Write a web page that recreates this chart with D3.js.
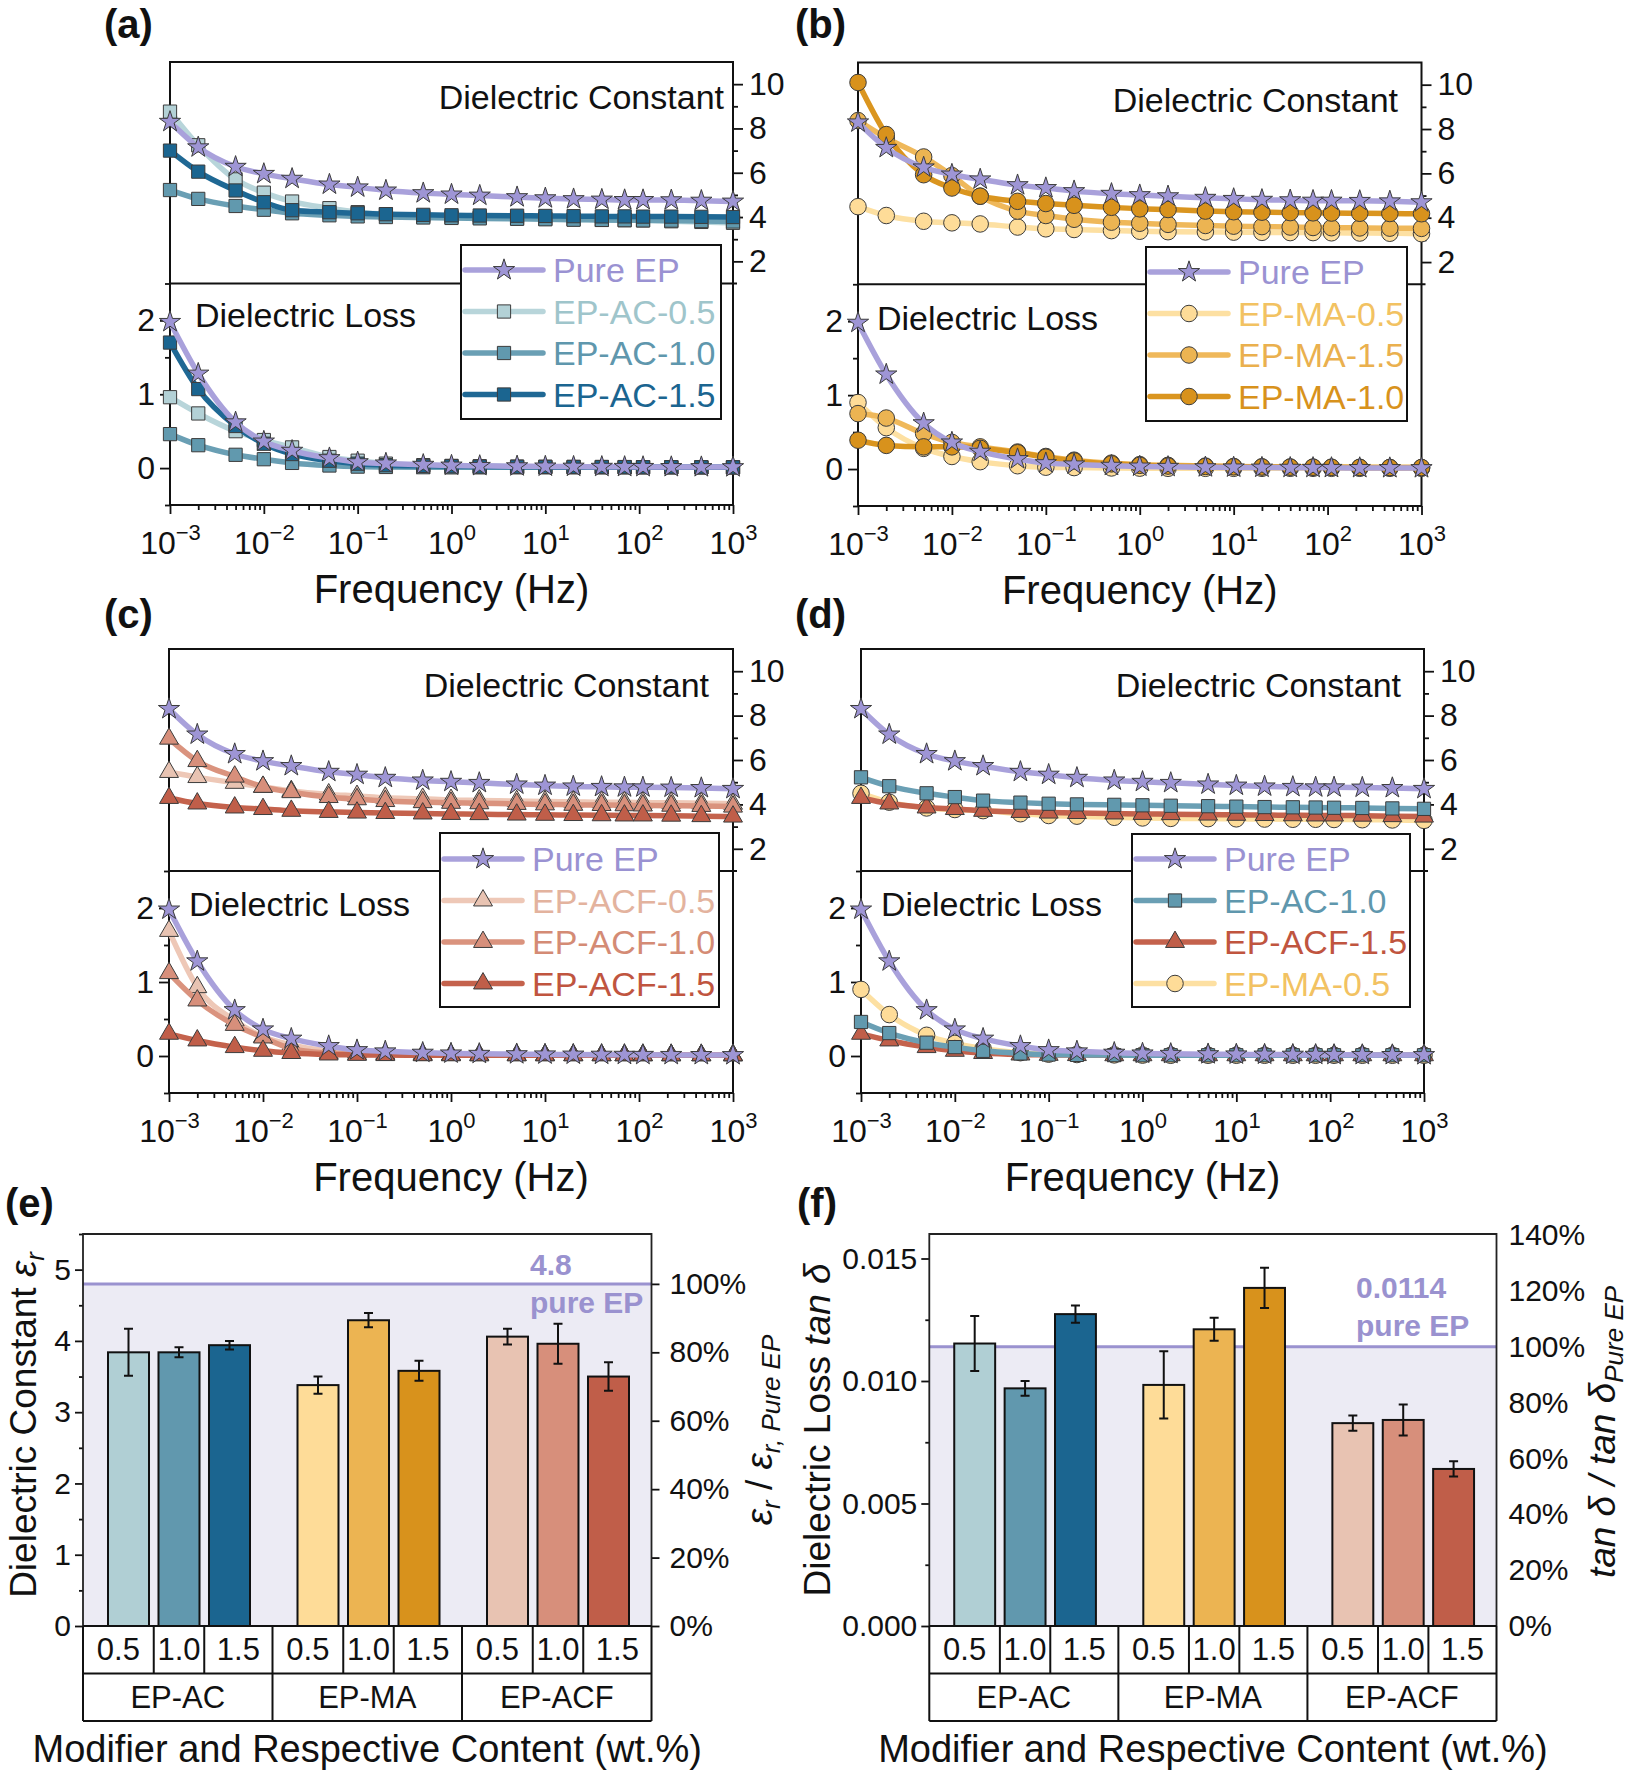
<!DOCTYPE html>
<html><head><meta charset="utf-8">
<script src="https://cdn.jsdelivr.net/npm/d3@7"></script>
<style>
body{margin:0;background:#fff}
svg{display:block}
text{font-family:"Liberation Sans",Arial,Helvetica,sans-serif}
</style>
</head><body>
<svg id="c" width="1628" height="1775"></svg>
<script>
// ---------------- DATA ----------------
const freq = [0.001,0.002,0.005,0.01,0.02,0.05,0.1,0.2,0.5,1,2,5,10,20,40,70,110,220,460,1000];

const pureEP_eps  = [8.3,7.15,6.27,5.95,5.73,5.47,5.34,5.2,5.08,5.02,4.97,4.9,4.85,4.81,4.79,4.77,4.77,4.76,4.74,4.7];
const pureEP_loss = [1.98,1.28,0.62,0.36,0.235,0.135,0.08,0.063,0.045,0.035,0.03,0.025,0.022,0.02,0.018,0.017,0.016,0.015,0.014,0.013];

const AC05_eps  = [8.76,7.24,5.7,5.1,4.7,4.4,4.22,4.13,4.04,4.0,3.98,3.95,3.92,3.9,3.87,3.86,3.85,3.81,3.78,3.74];
const AC05_loss = [0.96,0.74,0.5,0.38,0.28,0.15,0.1,0.06,0.04,0.03,0.025,0.02,0.018,0.016,0.015,0.014,0.013,0.012,0.011,0.01];
const AC10_eps  = [5.22,4.82,4.5,4.33,4.17,4.08,4.03,4.0,3.98,3.96,3.94,3.92,3.9,3.88,3.87,3.86,3.85,3.84,3.82,3.8];
const AC10_loss = [0.46,0.31,0.18,0.12,0.07,0.035,0.02,0.015,0.012,0.01,0.01,0.01,0.01,0.01,0.01,0.01,0.01,0.01,0.01,0.01];
const AC15_eps  = [7.0,6.05,5.2,4.67,4.31,4.22,4.17,4.13,4.1,4.08,4.07,4.06,4.05,4.04,4.03,4.03,4.02,4.02,4.01,4.0];
const AC15_loss = [1.7,1.07,0.57,0.33,0.19,0.1,0.06,0.04,0.03,0.025,0.02,0.018,0.016,0.015,0.014,0.013,0.012,0.012,0.011,0.01];

const MA05_eps  = [4.5,4.1,3.84,3.77,3.72,3.58,3.5,3.47,3.42,3.39,3.37,3.36,3.35,3.34,3.33,3.33,3.32,3.31,3.3,3.28];
const MA05_loss = [0.9,0.56,0.28,0.17,0.1,0.045,0.025,0.02,0.015,0.012,0.01,0.01,0.01,0.01,0.01,0.01,0.01,0.01,0.01,0.01];
const MA15_eps  = [8.38,7.6,6.74,5.9,4.97,4.3,4.1,3.93,3.8,3.75,3.7,3.65,3.62,3.6,3.58,3.56,3.55,3.54,3.53,3.52];
const MA15_loss = [0.75,0.69,0.48,0.36,0.3,0.23,0.17,0.12,0.08,0.06,0.05,0.04,0.035,0.03,0.028,0.026,0.025,0.024,0.022,0.02];
const MA10_eps  = [10.1,7.75,5.94,5.34,4.97,4.74,4.64,4.56,4.47,4.4,4.37,4.3,4.27,4.25,4.23,4.22,4.21,4.2,4.19,4.18];
const MA10_loss = [0.39,0.32,0.3,0.3,0.28,0.22,0.16,0.11,0.07,0.05,0.04,0.035,0.03,0.028,0.026,0.025,0.024,0.022,0.02,0.02];

const ACF05_eps  = [5.46,5.23,4.97,4.79,4.6,4.45,4.38,4.3,4.25,4.2,4.18,4.15,4.13,4.12,4.1,4.1,4.08,4.07,4.05,4.03];
const ACF05_loss = [1.69,0.93,0.48,0.26,0.15,0.07,0.05,0.03,0.025,0.02,0.018,0.016,0.015,0.014,0.013,0.012,0.012,0.011,0.011,0.01];
const ACF10_eps  = [6.96,5.95,5.25,4.79,4.55,4.33,4.23,4.15,4.1,4.07,4.05,4.02,4.0,3.98,3.97,3.96,3.95,3.94,3.93,3.9];
const ACF10_loss = [1.12,0.75,0.42,0.25,0.1,0.04,0.025,0.02,0.015,0.012,0.01,0.01,0.01,0.01,0.01,0.01,0.01,0.01,0.01,0.01];
const ACF15_eps  = [4.29,4.04,3.86,3.79,3.71,3.66,3.63,3.61,3.59,3.57,3.56,3.54,3.53,3.52,3.51,3.5,3.5,3.49,3.47,3.45];
const ACF15_loss = [0.3,0.21,0.12,0.07,0.04,0.02,0.015,0.012,0.01,0.01,0.01,0.01,0.01,0.01,0.01,0.01,0.01,0.01,0.01,0.01];

const xDecades = [1e-3,1e-2,1e-1,1e0,1e1,1e2,1e3];
const epsTicks = [2,4,6,8,10];
const lossTicks = [0,1,2];

// bar charts
const groups = ['EP-AC','EP-MA','EP-ACF'];
const contents = ['0.5','1.0','1.5'];
const epsBar = [3.84,3.84,3.94, 3.38,4.29,3.58, 4.06,3.96,3.5];
const epsErr = [0.33,0.07,0.06, 0.12,0.10,0.14, 0.11,0.28,0.20];
const tanBar = [0.01153,0.0097,0.01273, 0.00984,0.01211,0.0138, 0.00828,0.00841,0.00641];
const tanErr = [0.00112,0.0003,0.00035, 0.00137,0.00047,0.00082, 0.00031,0.00063,0.00031];
const pureEPeps = 4.8;
const pureEPtan = 0.0114;
const epsBarTicks = [0,1,2,3,4,5];
const epsPctTicks = [0,20,40,60,80,100];
const tanBarTicks = [0,0.005,0.010,0.015];
const tanPctTicks = [0,20,40,60,80,100,120,140];

// ---------------- STYLE ----------------
const series = {
  'Pure EP':    {eps:pureEP_eps, loss:pureEP_loss, sym:d3.symbolStar,     size:140, line:'#a9a1db', fill:'#9e95d5', text:'#9a92d2'},
  'EP-AC-0.5':  {eps:AC05_eps,  loss:AC05_loss,  sym:d3.symbolSquare,   size:175, line:'#b8d5da', fill:'#b3d1d6', text:'#9fc5cb'},
  'EP-AC-1.0':  {eps:AC10_eps,  loss:AC10_loss,  sym:d3.symbolSquare,   size:175, line:'#6a9fb4', fill:'#6199ae', text:'#5f97ad'},
  'EP-AC-1.5':  {eps:AC15_eps,  loss:AC15_loss,  sym:d3.symbolSquare,   size:175, line:'#1f6894', fill:'#1b6590', text:'#1b6590'},
  'EP-MA-0.5':  {eps:MA05_eps,  loss:MA05_loss,  sym:d3.symbolCircle,   size:215, line:'#fde0a2', fill:'#fedc98', text:'#f2c262'},
  'EP-MA-1.5':  {eps:MA15_eps,  loss:MA15_loss,  sym:d3.symbolCircle,   size:215, line:'#efb85a', fill:'#ecb452', text:'#eab04e'},
  'EP-MA-1.0':  {eps:MA10_eps,  loss:MA10_loss,  sym:d3.symbolCircle,   size:215, line:'#da951f', fill:'#d8921c', text:'#d8921c'},
  'EP-ACF-0.5': {eps:ACF05_eps, loss:ACF05_loss, sym:d3.symbolTriangle, size:155, line:'#eec8b7', fill:'#e8c3b2', text:'#e3b39e'},
  'EP-ACF-1.0': {eps:ACF10_eps, loss:ACF10_loss, sym:d3.symbolTriangle, size:155, line:'#da937e', fill:'#d78f7b', text:'#d48b75'},
  'EP-ACF-1.5': {eps:ACF15_eps, loss:ACF15_loss, sym:d3.symbolTriangle, size:155, line:'#c4624c', fill:'#c05e49', text:'#c0553f'}
};
const barColors = ['#b0cfd4','#6198ae','#1b6590','#fedc98','#ecb452','#d8921c','#e8c3b2','#d78f7b','#c05e49'];
const lav = '#9a92cf';

const linePanels = [
  {label:'(a)', lx:104, ly:38, x0:170, x1:733, top:62, bot:505,
   names:['EP-AC-0.5','EP-AC-1.0','EP-AC-1.5','Pure EP'], legend:['Pure EP','EP-AC-0.5','EP-AC-1.0','EP-AC-1.5'],
   dc:[724,109], dl:[195,327], leg:{x:461,y:245,w:260,h:174,r0:270}},
  {label:'(b)', lx:795, ly:38, x0:858, x1:1421.5, top:62.5, bot:506,
   names:['EP-MA-0.5','EP-MA-1.5','EP-MA-1.0','Pure EP'], legend:['Pure EP','EP-MA-0.5','EP-MA-1.5','EP-MA-1.0'],
   dc:[1398,112], dl:[877,330], leg:{x:1146,y:247,w:261,h:174,r0:272}},
  {label:'(c)', lx:104, ly:628, x0:169, x1:733, top:649, bot:1093,
   names:['EP-ACF-0.5','EP-ACF-1.0','EP-ACF-1.5','Pure EP'], legend:['Pure EP','EP-ACF-0.5','EP-ACF-1.0','EP-ACF-1.5'],
   dc:[709,697], dl:[189,916], leg:{x:440,y:833,w:279,h:174,r0:859}},
  {label:'(d)', lx:795, ly:628, x0:861, x1:1424, top:649, bot:1093,
   names:['EP-MA-0.5','EP-ACF-1.5','EP-AC-1.0','Pure EP'], legend:['Pure EP','EP-AC-1.0','EP-ACF-1.5','EP-MA-0.5'],
   dc:[1401,697], dl:[881,916], leg:{x:1132,y:834,w:278,h:173,r0:859}}
];

const svg = d3.select('#c');

function styleAxis(g, size){
  g.attr('font-family', null).attr('font-size', size);
  g.selectAll('.tick line').attr('stroke','#111').attr('stroke-width',1.8);
  g.selectAll('.tick text').attr('fill','#111');
  g.select('.domain').remove();
}

function drawLinePanel(p){
  const g = svg.append('g');
  const mid = (p.top + p.bot) / 2;
  const x = d3.scaleLog().domain([1e-3,1e3]).range([p.x0,p.x1]);
  const yT = d3.scaleLinear().domain([1,11]).range([mid,p.top]);
  const yB = d3.scaleLinear().domain([-0.5,2.5]).range([p.bot,mid]);

  const minor = [];
  for (let d=-3; d<3; d++) for (let k=2;k<10;k++) minor.push(k*Math.pow(10,d));
  g.append('g').attr('transform',`translate(0,${p.bot})`)
    .call(d3.axisBottom(x).tickValues(minor).tickSize(5).tickFormat(''))
    .call(a=>styleAxis(a,32));
  const gx = g.append('g').attr('transform',`translate(0,${p.bot})`)
    .call(d3.axisBottom(x).tickValues(xDecades).tickSize(9).tickFormat(''))
    .call(a=>styleAxis(a,32));
  gx.selectAll('.tick text').attr('y',49).attr('dy',null).each(function(d){
    const e = Math.round(Math.log10(d));
    const t = d3.select(this);
    t.append('tspan').text('10');
    t.append('tspan').attr('dy',-14).attr('font-size',22).text(e<0 ? '\u2212'+(-e) : String(e));
  });

  g.append('g').attr('transform',`translate(${p.x1},0)`)
    .call(d3.axisRight(yT).tickValues([3,5,7,9]).tickSize(5).tickFormat(''))
    .call(a=>styleAxis(a,32));
  g.append('g').attr('transform',`translate(${p.x1},0)`)
    .call(d3.axisRight(yT).tickValues(epsTicks).tickSize(10).tickPadding(6))
    .call(a=>styleAxis(a,32));
  g.append('g').attr('transform',`translate(${p.x0},0)`)
    .call(d3.axisLeft(yB).tickValues([-0.5,0.5,1.5,2.5]).tickSize(5).tickFormat(''))
    .call(a=>styleAxis(a,32));
  g.append('g').attr('transform',`translate(${p.x0},0)`)
    .call(d3.axisLeft(yB).tickValues(lossTicks).tickSize(10).tickPadding(5).tickFormat(d3.format('d')))
    .call(a=>styleAxis(a,32));

  g.append('rect').attr('x',p.x0).attr('y',p.top).attr('width',p.x1-p.x0).attr('height',p.bot-p.top)
    .attr('fill','none').attr('stroke','#111').attr('stroke-width',2);
  g.append('line').attr('x1',p.x0).attr('x2',p.x1+4).attr('y1',mid).attr('y2',mid)
    .attr('stroke','#111').attr('stroke-width',2);

  const lineT = d3.line().x((d,i)=>x(freq[i])).y(d=>yT(d)).curve(d3.curveMonotoneX);
  const lineB = d3.line().x((d,i)=>x(freq[i])).y(d=>yB(d)).curve(d3.curveMonotoneX);
  p.names.forEach(n=>{
    const s = series[n];
    [[s.eps,lineT,yT],[s.loss,lineB,yB]].forEach(([vals,ln,y])=>{
      g.append('path').attr('d',ln(vals)).attr('fill','none').attr('stroke',s.line)
        .attr('stroke-width',5.5).attr('stroke-linejoin','round');
      g.selectAll(null).data(vals).enter().append('path')
        .attr('d',d3.symbol().type(s.sym).size(s.size))
        .attr('transform',(d,i)=>`translate(${x(freq[i])},${y(d)})`)
        .attr('fill',s.fill).attr('stroke','#3c3c3c').attr('stroke-width',1);
    });
  });

  g.append('text').attr('x',p.dc[0]).attr('y',p.dc[1]).attr('text-anchor','end')
    .attr('font-size',34).attr('fill','#111').text('Dielectric Constant');
  g.append('text').attr('x',p.dl[0]).attr('y',p.dl[1])
    .attr('font-size',34).attr('fill','#111').text('Dielectric Loss');

  const L = p.leg;
  g.append('rect').attr('x',L.x).attr('y',L.y).attr('width',L.w).attr('height',L.h)
    .attr('fill','#fff').attr('stroke','#111').attr('stroke-width',2);
  p.legend.forEach((n,i)=>{
    const s = series[n];
    const yy = L.r0 + i*41.5;
    g.append('line').attr('x1',L.x+4).attr('x2',L.x+82).attr('y1',yy).attr('y2',yy)
      .attr('stroke',s.line).attr('stroke-width',5.5).attr('stroke-linecap','round');
    g.append('path').attr('d',d3.symbol().type(s.sym).size(s.size))
      .attr('transform',`translate(${L.x+43},${yy})`)
      .attr('fill',s.fill).attr('stroke','#3c3c3c').attr('stroke-width',1);
    g.append('text').attr('x',L.x+92).attr('y',yy+12).attr('font-size',34)
      .attr('fill',s.text).text(n);
  });

  g.append('text').attr('x',(p.x0+p.x1)/2).attr('y',p.bot+98).attr('text-anchor','middle')
    .attr('font-size',40).attr('fill','#111').text('Frequency (Hz)');
  g.append('text').attr('x',p.lx).attr('y',p.ly).attr('font-size',40).attr('font-weight','bold')
    .attr('fill','#111').text(p.label);
}

linePanels.forEach(drawLinePanel);

// ---------------- BAR PANELS ----------------
const barPanels = [
  {label:'(e)', lx:5, ly:1217, x0:83, x1:651.5, top:1234, bot:1626, vals:epsBar, errs:epsErr, ref:pureEPeps,
   ymax:5.5, ticks:epsBarTicks, minor:[0.5,1.5,2.5,3.5,4.5,5.5], fmt:d3.format('d'), pctTicks:epsPctTicks,
   pctTickSize:8, pctPad:10, refText:'4.8', refX:530, refY:[1275,1313], minorSize:4},
  {label:'(f)', lx:797, ly:1217, x0:929.3, x1:1496.5, top:1234, bot:1626, vals:tanBar, errs:tanErr, ref:pureEPtan,
   ymax:0.016, ticks:tanBarTicks, minor:[0.0025,0.0075,0.0125], fmt:d3.format('.3f'), pctTicks:tanPctTicks,
   pctTickSize:0, pctPad:12, refText:'0.0114', refX:1356, refY:[1298,1336], minorSize:4}
];

function drawBarPanel(p){
  const g = svg.append('g');
  const y = d3.scaleLinear().domain([0,p.ymax]).range([p.bot,p.top]);
  const yP = d3.scaleLinear().domain([0,p.ymax/p.ref*100]).range([p.bot,p.top]);
  const gx = d3.scaleBand().domain(groups).range([p.x0,p.x1]);
  const bw = gx.bandwidth();
  const ix = d3.scaleBand().domain(contents).range([bw*25/189.5, bw*167/189.5]).paddingInner(0.188);
  const cx = (i)=> gx(groups[Math.floor(i/3)]) + ix(contents[i%3]);

  g.append('rect').attr('x',p.x0).attr('y',y(p.ref)).attr('width',p.x1-p.x0).attr('height',p.bot-y(p.ref))
    .attr('fill','#ecebf4');
  g.append('line').attr('x1',p.x0).attr('x2',p.x1).attr('y1',y(p.ref)).attr('y2',y(p.ref))
    .attr('stroke',lav).attr('stroke-width',3);

  g.selectAll(null).data(p.vals).enter().append('rect')
    .attr('x',(d,i)=>cx(i)).attr('width',ix.bandwidth())
    .attr('y',d=>y(d)).attr('height',d=>p.bot-y(d))
    .attr('fill',(d,i)=>barColors[i]).attr('stroke','#111').attr('stroke-width',2);
  p.vals.forEach((v,i)=>{
    const xc = cx(i) + ix.bandwidth()/2, e = p.errs[i];
    g.append('path').attr('d',`M${xc},${y(v+e)}V${y(v-e)}M${xc-4.5},${y(v+e)}H${xc+4.5}M${xc-4.5},${y(v-e)}H${xc+4.5}`)
      .attr('stroke','#111').attr('stroke-width',2).attr('fill','none');
  });

  g.append('g').attr('transform',`translate(${p.x0},0)`)
    .call(d3.axisLeft(y).tickValues(p.minor).tickSize(p.minorSize).tickFormat(''))
    .call(a=>styleAxis(a,30));
  g.append('g').attr('transform',`translate(${p.x0},0)`)
    .call(d3.axisLeft(y).tickValues(p.ticks).tickSize(8).tickPadding(4).tickFormat(p.fmt))
    .call(a=>styleAxis(a,30));
  g.append('g').attr('transform',`translate(${p.x1},0)`)
    .call(d3.axisRight(yP).tickValues(p.pctTicks).tickSize(p.pctTickSize).tickPadding(p.pctPad).tickFormat(d=>d+'%'))
    .call(a=>styleAxis(a,30));

  g.append('path').attr('d',`M${p.x0},${p.bot}V${p.top}H${p.x1}V${p.bot}`)
    .attr('fill','none').attr('stroke','#222').attr('stroke-width',1.8);

  // table
  const r1 = p.bot + 47.5, r2 = p.bot + 95;
  const tl = g.append('g').attr('stroke','#111').attr('stroke-width',2).attr('fill','none');
  tl.append('path').attr('d',`M${p.x0},${p.bot}H${p.x1}M${p.x0},${r1}H${p.x1}M${p.x0},${r2}H${p.x1}M${p.x0},${p.bot}V${r2}M${p.x1},${p.bot}V${r2}`);
  const gap = (ix.step()-ix.bandwidth())/2;
  groups.forEach((gr,gi)=>{
    if (gi>0) tl.append('line').attr('x1',gx(gr)).attr('x2',gx(gr)).attr('y1',p.bot).attr('y2',r2);
    const edges = [gx(gr)];
    contents.forEach((c,ci)=>{ if (ci>0) edges.push(gx(gr)+ix(c)-gap); });
    edges.push(gx(gr)+bw);
    edges.slice(1,-1).forEach(xd=>{
      tl.append('line').attr('x1',xd).attr('x2',xd).attr('y1',p.bot).attr('y2',r1);
    });
    contents.forEach((c,ci)=>{
      g.append('text').attr('x',(edges[ci]+edges[ci+1])/2).attr('y',p.bot+34)
        .attr('text-anchor','middle').attr('font-size',31).attr('fill','#111').text(c);
    });
    g.append('text').attr('x',gx(gr)+bw/2).attr('y',p.bot+82)
      .attr('text-anchor','middle').attr('font-size',31).attr('fill','#111').text(gr);
  });

  g.append('text').attr('x',p.refX).attr('y',p.refY[0]).attr('font-size',30).attr('font-weight','bold')
    .attr('fill',lav).text(p.refText);
  g.append('text').attr('x',p.refX).attr('y',p.refY[1]).attr('font-size',30).attr('font-weight','bold')
    .attr('fill',lav).text('pure EP');

  g.append('text').attr('x',(p.x0+p.x1)/2).attr('y',1762).attr('text-anchor','middle')
    .attr('font-size',38).attr('fill','#111').text('Modifier and Respective Content (wt.%)');
  g.append('text').attr('x',p.lx).attr('y',p.ly).attr('font-size',40).attr('font-weight','bold')
    .attr('fill','#111').text(p.label);
  return g;
}

const ge = drawBarPanel(barPanels[0]);
const gf = drawBarPanel(barPanels[1]);

function rotText(g, x, y, parts){
  const t = g.append('text').attr('transform',`translate(${x},${y}) rotate(-90)`)
    .attr('text-anchor','middle').attr('font-size',37).attr('fill','#111');
  parts.forEach(pt=>{
    const s = t.append('tspan').text(pt.t);
    if (pt.i) s.attr('font-style','italic');
    if (pt.sub) s.attr('font-size',26).attr('dy',pt.sub);
    if (pt.dy) s.attr('dy',pt.dy);
  });
}
rotText(ge, 36, 1425, [{t:'Dielectric Constant '},{t:'\u03b5',i:1},{t:'r',i:1,sub:8}]);
rotText(ge, 772, 1430, [{t:'\u03b5',i:1},{t:'r',i:1,sub:8},{t:' / ',dy:-8},{t:'\u03b5',i:1},{t:'r, Pure EP',i:1,sub:8}]);
rotText(gf, 830, 1430, [{t:'Dielectric Loss '},{t:'tan \u03b4',i:1}]);
rotText(gf, 1615, 1432, [{t:'tan \u03b4 / tan \u03b4',i:1},{t:'Pure EP',i:1,sub:8}]);
</script>
</body></html>
